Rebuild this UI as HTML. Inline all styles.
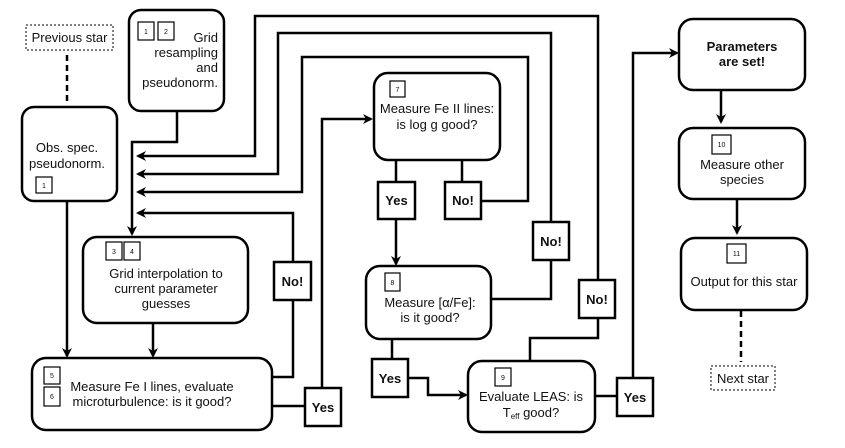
<!DOCTYPE html>
<html><head><style>
html,body{margin:0;padding:0;background:#fff;}
svg{display:block;font-family:"Liberation Sans",sans-serif;}
.b{fill:#fff;stroke:#000;stroke-width:2.5;}
.l{fill:none;stroke:#000;stroke-width:2.5;}
.s{fill:#fff;stroke:#000;stroke-width:1.2;}
.d{fill:#fff;stroke:#000;stroke-width:1;stroke-dasharray:2,2;}
text{font-size:13px;fill:#111;}
.n{font-size:7px;text-anchor:middle;}
.y{font-size:13px;font-weight:bold;text-anchor:middle;}
.c{text-anchor:middle;}
</style></head><body>
<svg width="845" height="448" viewBox="0 0 845 448">
<defs><marker id="a" markerWidth="10" markerHeight="10" refX="8" refY="5" orient="auto" markerUnits="userSpaceOnUse"><path d="M0,0 L10,5 L0,10 L3,5 z" fill="#000"/></marker></defs>

<!-- connectors -->
<line class="l" x1="67" y1="55" x2="67" y2="105" stroke-dasharray="6,4"/>
<path class="l" d="M67,201 V356" marker-end="url(#a)"/>
<path class="l" d="M177,111 V142 H132 V234" marker-end="url(#a)"/>
<path class="l" d="M530,361 V338 H598 V16 H255 V156 H138" marker-end="url(#a)"/>
<path class="l" d="M491,299 H551 V33 H278 V174 H138" marker-end="url(#a)"/>
<path class="l" d="M462,160 V201 H528 V57 H302 V192 H138" marker-end="url(#a)"/>
<path class="l" d="M272,377 H293 V213 H138" marker-end="url(#a)"/>
<path class="l" d="M153,323 V356" marker-end="url(#a)"/>
<path class="l" d="M272,406 H322 V119 H371" marker-end="url(#a)"/>
<path class="l" d="M396,160 V264" marker-end="url(#a)"/>
<path class="l" d="M392,339 V378 H428 V395 H466" marker-end="url(#a)"/>
<path class="l" d="M595,396 H633 V53 H677" marker-end="url(#a)"/>
<path class="l" d="M721,90 V122" marker-end="url(#a)"/>
<path class="l" d="M737,199 V233" marker-end="url(#a)"/>
<line class="l" x1="741" y1="311" x2="741" y2="362" stroke-dasharray="6,4"/>

<!-- boxes -->
<rect class="d" x="26" y="25" width="87" height="25"/>
<text x="69.5" y="42" class="c">Previous star</text>

<rect class="b" x="22" y="107" width="95" height="94" rx="12"/>
<text x="67" y="152" class="c">Obs. spec.</text>
<text x="67" y="168" class="c">pseudonorm.</text>
<rect class="s" x="36" y="177" width="16" height="16"/><text x="44" y="188" class="n">1</text>

<rect class="b" x="129" y="10" width="95" height="101" rx="12"/>
<rect class="s" x="138" y="22" width="16" height="18"/><text x="146" y="34" class="n">1</text>
<rect class="s" x="158" y="22" width="16" height="18"/><text x="166" y="34" class="n">2</text>
<text x="218" y="42" text-anchor="end">Grid</text>
<text x="218" y="57" text-anchor="end">resampling</text>
<text x="218" y="72" text-anchor="end">and</text>
<text x="218" y="87" text-anchor="end">pseudonorm.</text>

<rect class="b" x="83" y="237" width="165" height="86" rx="14"/>
<rect class="s" x="106" y="242" width="16" height="18"/><text x="114" y="254" class="n">3</text>
<rect class="s" x="124" y="242" width="16" height="18"/><text x="132" y="254" class="n">4</text>
<text x="166" y="278" class="c">Grid interpolation to</text>
<text x="166" y="293" class="c">current parameter</text>
<text x="166" y="308" class="c">guesses</text>

<rect class="b" x="32" y="358" width="240" height="72" rx="14"/>
<rect class="s" x="44" y="367" width="16" height="17"/><text x="52" y="378" class="n">5</text>
<rect class="s" x="44" y="387" width="16" height="19"/><text x="52" y="399" class="n">6</text>
<text x="152" y="391" class="c">Measure Fe I lines, evaluate</text>
<text x="152" y="406" class="c">microturbulence: is it good?</text>

<rect class="b" x="274" y="262" width="37" height="38"/><text x="292.5" y="286" class="y">No!</text>
<rect class="b" x="305" y="388" width="36" height="38"/><text x="323" y="412" class="y">Yes</text>

<rect class="b" x="374" y="73" width="126" height="87" rx="14"/>
<rect class="s" x="390" y="81" width="15" height="16"/><text x="397.5" y="92" class="n">7</text>
<text x="437" y="113" class="c">Measure Fe II lines:</text>
<text x="437" y="129" class="c">is log g good?</text>
<rect class="b" x="378" y="182" width="37" height="37"/><text x="396.5" y="205" class="y">Yes</text>
<rect class="b" x="445" y="182" width="36" height="37"/><text x="463" y="205" class="y">No!</text>

<rect class="b" x="366" y="266" width="125" height="73" rx="14"/>
<rect class="s" x="385" y="273" width="15" height="18"/><text x="392.5" y="285" class="n">8</text>
<text x="430" y="307" class="c">Measure [α/Fe]:</text>
<text x="430" y="322" class="c">is it good?</text>
<rect class="b" x="533" y="222" width="36" height="38"/><text x="551" y="246" class="y">No!</text>
<rect class="b" x="372" y="359" width="36" height="38"/><text x="390" y="383" class="y">Yes</text>

<rect class="b" x="579" y="280" width="36" height="38"/><text x="597" y="304" class="y">No!</text>

<rect class="b" x="468" y="361" width="127" height="71" rx="14"/>
<rect class="s" x="495" y="368" width="16" height="18"/><text x="503" y="380" class="n">9</text>
<text x="531" y="401" class="c">Evaluate LEAS: is</text>
<text x="531" y="417" class="c">T<tspan font-size="8" dy="2">eff</tspan><tspan dy="-2"> good?</tspan></text>
<rect class="b" x="617" y="378" width="36" height="38"/><text x="635" y="402" class="y">Yes</text>

<rect class="b" x="679" y="19" width="126" height="71" rx="14"/>
<text x="742" y="51" class="y">Parameters</text>
<text x="742" y="66" class="y">are set!</text>

<rect class="b" x="679" y="128" width="126" height="71" rx="14"/>
<rect class="s" x="712" y="135" width="19" height="19"/><text x="721.5" y="147" class="n">10</text>
<text x="742" y="169" class="c">Measure other</text>
<text x="742" y="184" class="c">species</text>

<rect class="b" x="681" y="238" width="126" height="72" rx="14"/>
<rect class="s" x="727" y="244" width="19" height="19"/><text x="736.5" y="256" class="n">11</text>
<text x="744" y="286" class="c">Output for this star</text>

<rect class="d" x="711" y="366" width="64" height="24"/>
<text x="743" y="383" class="c">Next star</text>
</svg>
</body></html>
